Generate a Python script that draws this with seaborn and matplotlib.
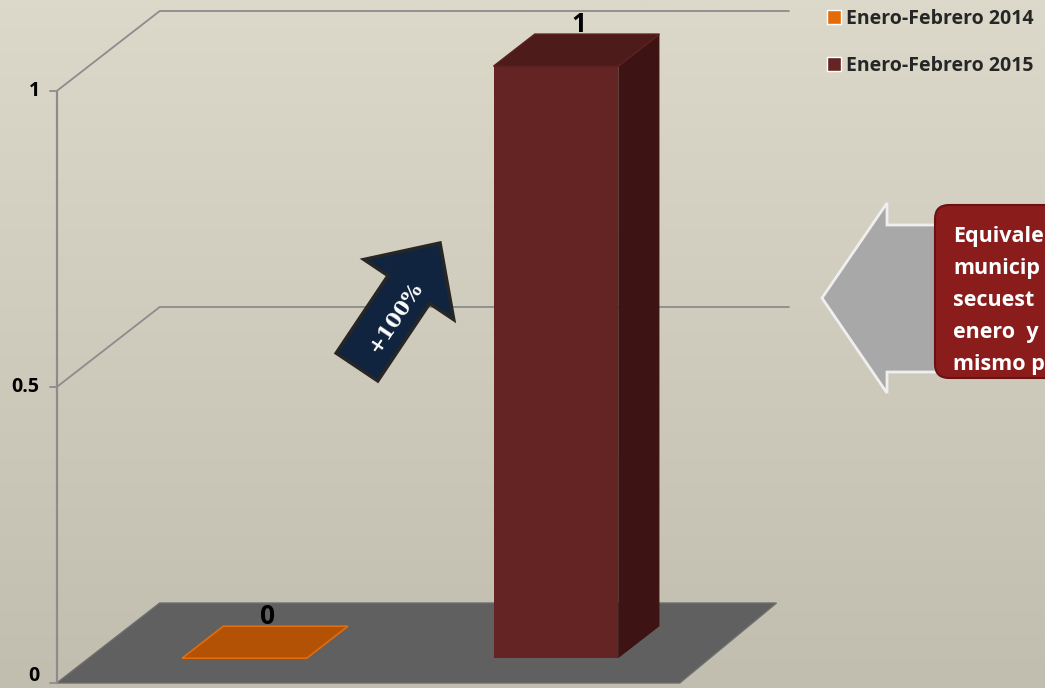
import numpy as np
import pandas as pd
import seaborn as sns
import matplotlib.pyplot as plt
import matplotlib.patches as mpatches
from matplotlib.colors import LinearSegmentedColormap

# datos
periodos = ["Enero-Febrero 2014", "Enero-Febrero 2015"]
valores = [0, 1]
ticks_y = [0, 0.5, 1]
ticks_txt = ["0", "0.5", "1"]
etiquetas = ["0", "1"]
variacion = "+100%"
nota = ["Equivale", "municip", "secuest", "enero  y", "mismo p"]

# colores
frente = ["#E36C09", "#632423"]
techo = ["#B35205", "#4C1B1A"]
lado = ["#B35205", "#3D1413"]
borde_techo = ["#E46C0A", "#5A2020"]
piso = "#606060"
rejilla = "#8C8C8C"

sns.set_theme(style="white")
plt.rcParams['font.family'] = ['Open Sans', 'DejaVu Sans']

W, H = 1045, 688
fig = plt.figure(figsize=(W / 100, H / 100), dpi=100)

# fondo degradado
bg = fig.add_axes([0, 0, 1, 1])
cmap = LinearSegmentedColormap.from_list("fondo", ["#C1BEB0", "#DCD9CB"])
grad = np.linspace(0, 1, 256).reshape(-1, 1)
bg.imshow(grad, aspect="auto", cmap=cmap, origin="lower", extent=[0, 1, 0, 1])
bg.axis("off")
bg.set_zorder(0)

ax = fig.add_axes([0, 0, 1, 1])
ax.set_zorder(1)
df = pd.DataFrame({"periodo": periodos, "valor": valores})
sns.barplot(data=df, x="periodo", y="valor", hue="periodo", palette=frente,
            width=0.4, saturation=1, ax=ax, legend=True)
barras = [b for c in ax.containers for b in c]

# proyeccion oblicua (profundidad d de 0 a 1)
X0, SX, Y0, SY = 212.5, 311.5, 683, 592
DX, DY = 103 / SX, 80 / SY
d0, d1 = 0.31, 0.71


def proj(x, v, d):
    return (x + d * DX, v + d * DY)


# piso
ax.add_patch(mpatches.Polygon([proj(-0.5, 0, 0), proj(1.5, 0, 0), proj(1.48, 0, 1), proj(-0.5, 0, 1)],
                              closed=True, fc=piso, ec="#6E6E6E", lw=1, zorder=1))
# rejilla pared izquierda y fondo
for v in ticks_y[1:]:
    xs, ys = zip(proj(-0.5, v, 0), proj(-0.5, v, 1), proj(1.52, v, 1))
    ax.plot(xs, ys, color=rejilla, lw=1.3, zorder=1.5, solid_joinstyle="miter")
# eje vertical
xs, ys = zip(proj(-0.5, 0, 0), proj(-0.5, 1, 0))
ax.plot(xs, ys, color=rejilla, lw=1.6, zorder=1.5)
for v, t in zip(ticks_y, ticks_txt):
    ax.plot([-0.5 - 0.0225, -0.5], [v, v], color=rejilla, lw=1.3, zorder=1.5)
    ax.annotate(t, (-0.5, v), xytext=(-17, 7 if v == 0 else 0), textcoords="offset pixels",
                ha="right", va="center", fontsize=14, fontweight="bold", color="black")

# barras en 3D a partir de los rectangulos de seaborn
for i, p in enumerate(barras):
    x, w, h = p.get_x(), p.get_width(), p.get_height()
    p.set_x(x + d0 * DX)
    p.set_y(d0 * DY)
    p.set_edgecolor("none")
    p.set_zorder(3)
    if h > 0:
        ax.add_patch(mpatches.Polygon([proj(x + w, 0, d0), proj(x + w, h, d0), proj(x + w, h, d1), proj(x + w, 0, d1)],
                                      closed=True, fc=lado[i], ec="none", zorder=3))
    ax.add_patch(mpatches.Polygon([proj(x, h, d0), proj(x + w, h, d0), proj(x + w, h, d1), proj(x, h, d1)],
                                  closed=True, fc=techo[i], ec=borde_techo[i], lw=1.2, zorder=3.1))
    cx, cy = proj(x + w / 2, h, (d0 + d1) / 2)
    ax.annotate(etiquetas[i], (cx, cy), xytext=(2, 9), textcoords="offset points",
                ha="center", va="bottom", fontsize=19, fontweight="bold", color="black", zorder=4)

ax.set_xlim(-X0 / SX, (W - X0) / SX)
ax.set_ylim((Y0 - H) / SY, Y0 / SY)
ax.axis("off")

# leyenda
old = ax.get_legend()
handles = old.legend_handles
labels = [t.get_text() for t in old.get_texts()]
old.remove()
ax.legend(handles, labels, loc="upper left", bbox_to_anchor=(827 / W, 1 - 9 / H),
          bbox_transform=fig.transFigure, frameon=False,
          prop={"weight": "bold", "size": 14}, handlelength=0.72, handleheight=0.72,
          handletextpad=0.28, labelspacing=1.4, borderpad=0, borderaxespad=0)

# capa de anotaciones en pixeles
ov = fig.add_axes([0, 0, 1, 1])
ov.set_zorder(3)
ov.set_xlim(0, W)
ov.set_ylim(H, 0)
ov.axis("off")

# flecha azul
ov.add_patch(mpatches.FancyArrow(357, 367, 83, -124, width=50, head_width=108, head_length=56,
                                 length_includes_head=True, fc="#10243F", ec="#262626", lw=2.5))
ov.text(395, 317, variacion, rotation=56, ha="center", va="center", color="white",
        fontsize=15, fontweight="bold", family=["DejaVu Serif"])

# flecha gris hacia la izquierda
ov.add_patch(mpatches.Polygon([(822, 298), (887, 203), (887, 225), (1050, 225), (1050, 372),
                               (887, 372), (887, 393)], closed=True, fc="#A8A8A8", ec="#EFEFEF", lw=2))
ov.add_patch(mpatches.FancyBboxPatch((935, 205), 140, 173, boxstyle="round,pad=0,rounding_size=14",
                                     fc="#8A1C1C", ec="#6A1212", lw=1.5))
for k, linea in enumerate(nota):
    ov.text(953, 242 + 32 * k, linea, ha="left", va="baseline", color="white",
            fontsize=15.5, fontweight="bold")

fig.savefig("out.png", dpi=100)
